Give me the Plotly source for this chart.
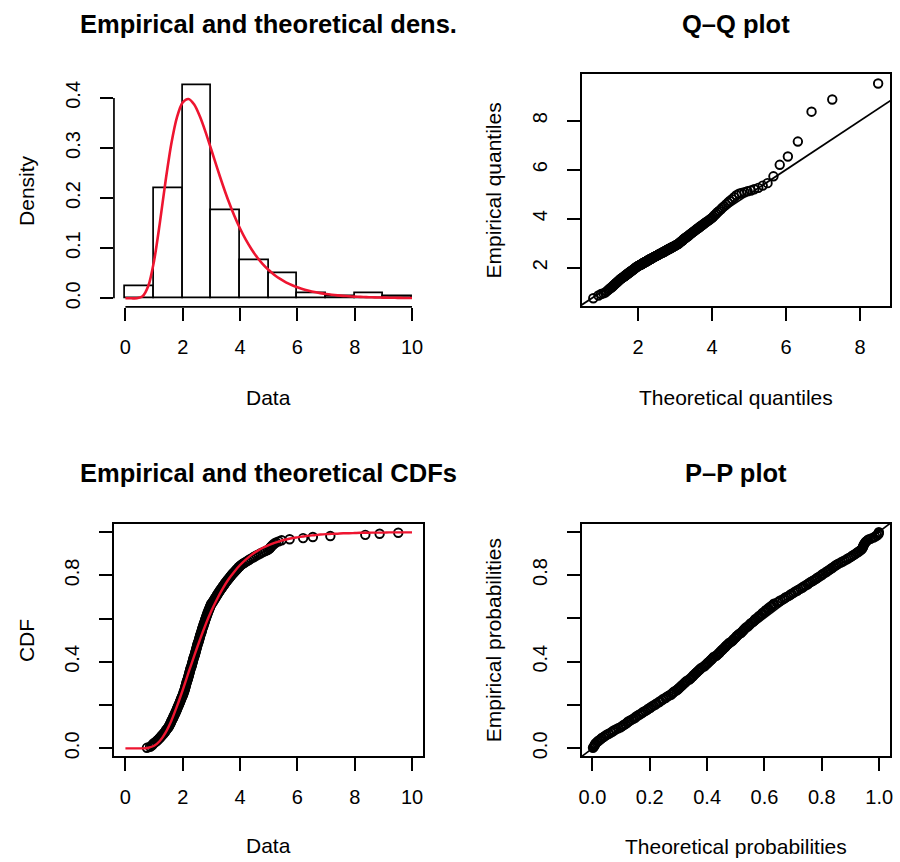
import plotly.graph_objects as go

# ---------------- data ----------------
data_sorted = [
    0.75, 0.86, 0.92, 0.95, 0.98, 1.03, 1.08, 1.12, 1.16, 1.19, 1.23, 1.26, 1.29, 1.33, 1.36, 1.39, 1.41, 1.44, 1.47, 1.50,
    1.52, 1.54, 1.56, 1.58, 1.59, 1.61, 1.63, 1.65, 1.67, 1.68, 1.70, 1.72, 1.74, 1.75, 1.77, 1.79, 1.80, 1.82, 1.83, 1.85,
    1.87, 1.88, 1.90, 1.91, 1.93, 1.94, 1.96, 1.97, 1.99, 2.01, 2.02, 2.03, 2.04, 2.06, 2.07, 2.08, 2.09, 2.10, 2.11, 2.12,
    2.13, 2.14, 2.15, 2.17, 2.18, 2.19, 2.20, 2.21, 2.22, 2.23, 2.24, 2.25, 2.26, 2.27, 2.28, 2.30, 2.31, 2.32, 2.33, 2.34,
    2.35, 2.36, 2.37, 2.38, 2.39, 2.41, 2.42, 2.43, 2.44, 2.45, 2.46, 2.47, 2.48, 2.49, 2.50, 2.51, 2.52, 2.53, 2.55, 2.56,
    2.57, 2.58, 2.59, 2.60, 2.61, 2.62, 2.64, 2.65, 2.66, 2.67, 2.68, 2.69, 2.71, 2.72, 2.73, 2.74, 2.76, 2.77, 2.78, 2.79,
    2.81, 2.82, 2.83, 2.85, 2.86, 2.87, 2.89, 2.90, 2.92, 2.93, 2.95, 2.96, 2.98, 2.99, 3.03, 3.05, 3.07, 3.10, 3.12, 3.14,
    3.17, 3.19, 3.21, 3.24, 3.26, 3.29, 3.31, 3.34, 3.37, 3.39, 3.42, 3.45, 3.47, 3.50, 3.53, 3.56, 3.59, 3.62, 3.65, 3.68,
    3.71, 3.74, 3.78, 3.81, 3.85, 3.88, 3.92, 3.95, 3.99, 4.03, 4.08, 4.14, 4.20, 4.26, 4.32, 4.38, 4.45, 4.51, 4.58, 4.65,
    4.72, 4.80, 4.88, 4.96, 5.02, 5.05, 5.08, 5.12, 5.15, 5.20, 5.26, 5.35, 5.45, 5.73, 6.20, 6.54, 7.15, 8.37, 8.87, 9.52,
]

theo_quantiles = [
    0.79, 0.93, 1.00, 1.06, 1.11, 1.15, 1.19, 1.22, 1.25, 1.28, 1.31, 1.33, 1.35, 1.38, 1.40, 1.42, 1.44, 1.46, 1.48, 1.50,
    1.52, 1.53, 1.55, 1.57, 1.58, 1.60, 1.62, 1.63, 1.65, 1.66, 1.68, 1.69, 1.71, 1.72, 1.74, 1.75, 1.77, 1.78, 1.79, 1.81,
    1.82, 1.84, 1.85, 1.86, 1.88, 1.89, 1.90, 1.92, 1.93, 1.94, 1.95, 1.97, 1.98, 1.99, 2.01, 2.02, 2.03, 2.04, 2.06, 2.07,
    2.08, 2.09, 2.11, 2.12, 2.13, 2.14, 2.16, 2.17, 2.18, 2.19, 2.21, 2.22, 2.23, 2.25, 2.26, 2.27, 2.28, 2.30, 2.31, 2.32,
    2.33, 2.35, 2.36, 2.37, 2.39, 2.40, 2.41, 2.42, 2.44, 2.45, 2.46, 2.48, 2.49, 2.50, 2.52, 2.53, 2.54, 2.56, 2.57, 2.58,
    2.60, 2.61, 2.63, 2.64, 2.65, 2.67, 2.68, 2.70, 2.71, 2.73, 2.74, 2.75, 2.77, 2.78, 2.80, 2.81, 2.83, 2.84, 2.86, 2.88,
    2.89, 2.91, 2.92, 2.94, 2.96, 2.97, 2.99, 3.01, 3.02, 3.04, 3.06, 3.08, 3.09, 3.11, 3.13, 3.15, 3.17, 3.19, 3.21, 3.22,
    3.24, 3.26, 3.28, 3.30, 3.33, 3.35, 3.37, 3.39, 3.41, 3.43, 3.46, 3.48, 3.50, 3.53, 3.55, 3.58, 3.60, 3.63, 3.66, 3.68,
    3.71, 3.74, 3.77, 3.80, 3.83, 3.86, 3.90, 3.93, 3.96, 4.00, 4.03, 4.07, 4.11, 4.15, 4.19, 4.24, 4.28, 4.33, 4.38, 4.43,
    4.48, 4.54, 4.60, 4.66, 4.73, 4.80, 4.88, 4.96, 5.05, 5.14, 5.25, 5.37, 5.50, 5.66, 5.83, 6.05, 6.32, 6.69, 7.25, 8.49,
]

theo_probs = [
    0.002, 0.005, 0.007, 0.009, 0.011, 0.015, 0.019, 0.024, 0.029, 0.033, 0.039, 0.044, 0.050, 0.057, 0.064, 0.070,
    0.075, 0.082, 0.090, 0.098, 0.104, 0.109, 0.115, 0.121, 0.124, 0.130, 0.137, 0.144, 0.150, 0.153, 0.160, 0.166,
    0.173, 0.177, 0.184, 0.191, 0.195, 0.202, 0.206, 0.213, 0.220, 0.224, 0.232, 0.236, 0.243, 0.247, 0.255, 0.259,
    0.266, 0.274, 0.278, 0.282, 0.286, 0.294, 0.298, 0.302, 0.306, 0.310, 0.314, 0.318, 0.322, 0.326, 0.330, 0.338,
    0.342, 0.346, 0.350, 0.353, 0.357, 0.361, 0.365, 0.369, 0.373, 0.377, 0.381, 0.389, 0.393, 0.397, 0.401, 0.405,
    0.409, 0.413, 0.417, 0.420, 0.424, 0.432, 0.436, 0.440, 0.444, 0.447, 0.451, 0.455, 0.459, 0.463, 0.466, 0.470,
    0.474, 0.478, 0.485, 0.489, 0.492, 0.496, 0.500, 0.503, 0.507, 0.511, 0.518, 0.521, 0.525, 0.528, 0.532, 0.535,
    0.542, 0.546, 0.549, 0.553, 0.559, 0.563, 0.566, 0.569, 0.576, 0.579, 0.583, 0.589, 0.592, 0.596, 0.602, 0.605,
    0.611, 0.614, 0.621, 0.624, 0.630, 0.633, 0.644, 0.650, 0.656, 0.664, 0.670, 0.675, 0.683, 0.689, 0.694, 0.701,
    0.706, 0.714, 0.719, 0.726, 0.733, 0.737, 0.744, 0.751, 0.755, 0.761, 0.768, 0.774, 0.780, 0.785, 0.791, 0.797,
    0.802, 0.807, 0.814, 0.819, 0.825, 0.830, 0.836, 0.841, 0.846, 0.852, 0.858, 0.866, 0.873, 0.880, 0.887, 0.893,
    0.900, 0.905, 0.911, 0.917, 0.922, 0.928, 0.933, 0.938, 0.941, 0.943, 0.944, 0.946, 0.948, 0.950, 0.953, 0.957,
    0.961, 0.970, 0.980, 0.986, 0.992, 0.997, 0.998, 0.999,
]

emp_probs = [
    0.0025, 0.0075, 0.0125, 0.0175, 0.0225, 0.0275, 0.0325, 0.0375, 0.0425, 0.0475,
    0.0525, 0.0575, 0.0625, 0.0675, 0.0725, 0.0775, 0.0825, 0.0875, 0.0925, 0.0975,
    0.1025, 0.1075, 0.1125, 0.1175, 0.1225, 0.1275, 0.1325, 0.1375, 0.1425, 0.1475,
    0.1525, 0.1575, 0.1625, 0.1675, 0.1725, 0.1775, 0.1825, 0.1875, 0.1925, 0.1975,
    0.2025, 0.2075, 0.2125, 0.2175, 0.2225, 0.2275, 0.2325, 0.2375, 0.2425, 0.2475,
    0.2525, 0.2575, 0.2625, 0.2675, 0.2725, 0.2775, 0.2825, 0.2875, 0.2925, 0.2975,
    0.3025, 0.3075, 0.3125, 0.3175, 0.3225, 0.3275, 0.3325, 0.3375, 0.3425, 0.3475,
    0.3525, 0.3575, 0.3625, 0.3675, 0.3725, 0.3775, 0.3825, 0.3875, 0.3925, 0.3975,
    0.4025, 0.4075, 0.4125, 0.4175, 0.4225, 0.4275, 0.4325, 0.4375, 0.4425, 0.4475,
    0.4525, 0.4575, 0.4625, 0.4675, 0.4725, 0.4775, 0.4825, 0.4875, 0.4925, 0.4975,
    0.5025, 0.5075, 0.5125, 0.5175, 0.5225, 0.5275, 0.5325, 0.5375, 0.5425, 0.5475,
    0.5525, 0.5575, 0.5625, 0.5675, 0.5725, 0.5775, 0.5825, 0.5875, 0.5925, 0.5975,
    0.6025, 0.6075, 0.6125, 0.6175, 0.6225, 0.6275, 0.6325, 0.6375, 0.6425, 0.6475,
    0.6525, 0.6575, 0.6625, 0.6675, 0.6725, 0.6775, 0.6825, 0.6875, 0.6925, 0.6975,
    0.7025, 0.7075, 0.7125, 0.7175, 0.7225, 0.7275, 0.7325, 0.7375, 0.7425, 0.7475,
    0.7525, 0.7575, 0.7625, 0.7675, 0.7725, 0.7775, 0.7825, 0.7875, 0.7925, 0.7975,
    0.8025, 0.8075, 0.8125, 0.8175, 0.8225, 0.8275, 0.8325, 0.8375, 0.8425, 0.8475,
    0.8525, 0.8575, 0.8625, 0.8675, 0.8725, 0.8775, 0.8825, 0.8875, 0.8925, 0.8975,
    0.9025, 0.9075, 0.9125, 0.9175, 0.9225, 0.9275, 0.9325, 0.9375, 0.9425, 0.9475,
    0.9525, 0.9575, 0.9625, 0.9675, 0.9725, 0.9775, 0.9825, 0.9875, 0.9925, 0.9975,
]

curve_x = [
    0.0, 0.2, 0.4, 0.6, 0.8, 1.0, 1.2, 1.4, 1.6, 1.8, 2.0, 2.2, 2.4,
    2.6, 2.8, 3.0, 3.2, 3.4, 3.6, 3.8, 4.0, 4.2, 4.4, 4.6, 4.8, 5.0,
    5.2, 5.4, 5.6, 5.8, 6.0, 6.2, 6.4, 6.6, 6.8, 7.0, 7.2, 7.4, 7.6,
    7.8, 8.0, 8.2, 8.4, 8.6, 8.8, 9.0, 9.2, 9.4, 9.6, 9.8, 10.0,
]
dens_y = [
    0.0000, 0.0000, 0.0001, 0.0040, 0.0249, 0.0749, 0.1501, 0.2337, 0.3080, 0.3617, 0.3910, 0.3978, 0.3866,
    0.3627, 0.3312, 0.2960, 0.2602, 0.2257, 0.1936, 0.1647, 0.1392, 0.1170, 0.0979, 0.0816, 0.0679, 0.0564,
    0.0467, 0.0387, 0.0320, 0.0265, 0.0219, 0.0181, 0.0150, 0.0124, 0.0103, 0.0085, 0.0071, 0.0059, 0.0049,
    0.0041, 0.0034, 0.0028, 0.0024, 0.0020, 0.0016, 0.0014, 0.0012, 0.0010, 0.0008, 0.0007, 0.0006,
]
cdf_y = [
    0.000, 0.000, 0.000, 0.000, 0.003, 0.012, 0.034, 0.073, 0.127, 0.195, 0.270, 0.350, 0.428,
    0.503, 0.573, 0.636, 0.691, 0.740, 0.782, 0.817, 0.848, 0.873, 0.895, 0.913, 0.928, 0.940,
    0.950, 0.959, 0.966, 0.972, 0.976, 0.980, 0.984, 0.986, 0.989, 0.991, 0.992, 0.993, 0.995,
    0.995, 0.996, 0.997, 0.997, 0.998, 0.998, 0.998, 0.999, 0.999, 0.999, 0.999, 0.999,
]

hist_start, hist_end, hist_width = 0, 10, 1

density_ticks = [0.0, 0.1, 0.2, 0.3, 0.4]
density_ticktext = ["0.0", "0.1", "0.2", "0.3", "0.4"]
data_ticks = [0, 2, 4, 6, 8, 10]
data_ticktext = ["0", "2", "4", "6", "8", "10"]
quant_ticks = [2, 4, 6, 8]
quant_ticktext = ["2", "4", "6", "8"]
prob_ticks = [0.0, 0.2, 0.4, 0.6, 0.8, 1.0]
prob_ticktext_x = ["0.0", "0.2", "0.4", "0.6", "0.8", "1.0"]
prob_ticktext_y = ["0.0", "", "0.4", "", "0.8", ""]

titles = ["Empirical and theoretical dens.", "Q\u2013Q plot",
          "Empirical and theoretical CDFs", "P\u2013P plot"]
xlabels = ["Data", "Theoretical quantiles", "Data", "Theoretical probabilities"]
ylabels = ["Density", "Empirical quantiles", "CDF", "Empirical probabilities"]

# ---------------- styling / layout ----------------
W, H = 900, 862
FONT = "Liberation Sans, Arial, Helvetica, sans-serif"
BLACK = "#000000"
RED = "#EE1530"
LW = 1.7
TICK_FS = 20
LAB_FS = 21
TITLE_FS = 25.5

regions = [(111.7, 423.3, 74.5, 308.0), (582.7, 893.3, 74.5, 307.5),
           (111.7, 423.3, 526.0, 759.0), (582.7, 893.3, 525.5, 759.0)]
xranges = [[-0.4, 10.4], [0.48, 8.82], [-0.4, 10.4], [-0.037, 1.039]]
yranges = [[-0.0172, 0.4472], [0.415, 9.90], [-0.037, 1.037], [-0.037, 1.037]]

def xdom(r):
    return [r[0] / W, r[1] / W]

def ydom(r):
    return [1 - r[3] / H, 1 - r[2] / H]

marker_style = dict(symbol="circle-open", size=8.5, color=BLACK, line=dict(width=1.9, color=BLACK))

fig = go.Figure()

# 1. histogram + theoretical density
fig.add_trace(go.Histogram(
    x=data_sorted, xaxis="x", yaxis="y", histnorm="probability density",
    autobinx=False, xbins=dict(start=hist_start, end=hist_end, size=hist_width),
    marker=dict(color="white", line=dict(color=BLACK, width=LW)), showlegend=False,
))
fig.add_trace(go.Scatter(
    x=curve_x, y=dens_y, xaxis="x", yaxis="y", mode="lines",
    line=dict(color=RED, width=2.6, shape="spline", smoothing=0.8), showlegend=False,
))

# 2. Q-Q plot
fig.add_trace(go.Scatter(
    x=theo_quantiles, y=data_sorted, xaxis="x2", yaxis="y2", mode="markers",
    marker=marker_style, showlegend=False,
))
lo2 = min(xranges[1][0], yranges[1][0]) - 1
hi2 = max(xranges[1][1], yranges[1][1]) + 1
fig.add_trace(go.Scatter(
    x=[lo2, hi2], y=[lo2, hi2], xaxis="x2", yaxis="y2", mode="lines",
    line=dict(color=BLACK, width=1.7), showlegend=False,
))

# 3. CDF plot
fig.add_trace(go.Scatter(
    x=data_sorted, y=emp_probs, xaxis="x3", yaxis="y3", mode="markers",
    marker=marker_style, showlegend=False,
))
fig.add_trace(go.Scatter(
    x=curve_x, y=cdf_y, xaxis="x3", yaxis="y3", mode="lines",
    line=dict(color=RED, width=2.4, shape="spline", smoothing=0.6), showlegend=False,
))

# 4. P-P plot
fig.add_trace(go.Scatter(
    x=theo_probs, y=emp_probs, xaxis="x4", yaxis="y4", mode="markers",
    marker=marker_style, showlegend=False,
))
lo4 = min(xranges[3][0], yranges[3][0]) - 1
hi4 = max(xranges[3][1], yranges[3][1]) + 1
fig.add_trace(go.Scatter(
    x=[lo4, hi4], y=[lo4, hi4], xaxis="x4", yaxis="y4", mode="lines",
    line=dict(color=BLACK, width=1.7), showlegend=False,
))

tickfont = dict(family=FONT, size=TICK_FS, color=BLACK)
xtick_sets = [(data_ticks, data_ticktext), (quant_ticks, quant_ticktext),
              (data_ticks, data_ticktext), (prob_ticks, prob_ticktext_x)]
ytick_sets = [(density_ticks, density_ticktext), (quant_ticks, quant_ticktext),
              (prob_ticks, prob_ticktext_y), (prob_ticks, prob_ticktext_y)]

layout = dict(width=W, height=H, margin=dict(l=0, r=0, t=0, b=0), autosize=False,
              paper_bgcolor="white", plot_bgcolor="white", showlegend=False, bargap=0)

for k in range(4):
    suffix = "" if k == 0 else str(k + 1)
    boxed = k > 0
    common = dict(showgrid=False, zeroline=False, ticks="outside", ticklen=13,
                  tickwidth=LW, tickcolor=BLACK, tickfont=tickfont,
                  showline=boxed, linecolor=BLACK, linewidth=LW,
                  mirror=True if boxed else False, fixedrange=True)
    xt, xtt = xtick_sets[k]
    yt, ytt = ytick_sets[k]
    layout["xaxis" + suffix] = dict(
        common, domain=xdom(regions[k]), range=xranges[k], anchor="y" + suffix,
        tickmode="array", tickvals=xt, ticktext=xtt, ticklabelstandoff=9)
    layout["yaxis" + suffix] = dict(
        common, domain=ydom(regions[k]), range=yranges[k], anchor="x" + suffix,
        tickmode="array", tickvals=yt, ticktext=ytt, tickangle=-90, ticklabelstandoff=12)

fig.update_layout(**layout)

# R-style axis lines for the histogram panel (span only the tick range)
fig.add_shape(type="line", xref="x", yref="y domain", x0=data_ticks[0], x1=data_ticks[-1],
              y0=0, y1=0, line=dict(color=BLACK, width=LW))
fig.add_shape(type="line", xref="x domain", yref="y", x0=0, x1=0,
              y0=density_ticks[0], y1=density_ticks[-1], line=dict(color=BLACK, width=LW))

# titles and axis labels
title_y = [24.5, 24.5, 474.5, 474.5]
xlab_y = [398.5, 399.0, 848.5, 849.0]
ylab_x = [23.5, 493.5, 23.0, 493.5]
for k in range(4):
    left, right, top, bottom = regions[k]
    cx = (left + right) / 2
    cy = (top + bottom) / 2
    fig.add_annotation(x=cx / W, y=1 - title_y[k] / H, xref="paper", yref="paper",
                       text="<b>" + titles[k] + "</b>", showarrow=False,
                       xanchor="center", yanchor="middle",
                       font=dict(family=FONT, size=TITLE_FS, color=BLACK))
    fig.add_annotation(x=cx / W, y=1 - xlab_y[k] / H, xref="paper", yref="paper",
                       text=xlabels[k], showarrow=False, xanchor="center", yanchor="middle",
                       font=dict(family=FONT, size=LAB_FS, color=BLACK))
    fig.add_annotation(x=ylab_x[k] / W, y=1 - cy / H, xref="paper", yref="paper",
                       text=ylabels[k], showarrow=False, textangle=-90,
                       xanchor="center", yanchor="middle",
                       font=dict(family=FONT, size=LAB_FS, color=BLACK))

fig.write_html("out.html")
